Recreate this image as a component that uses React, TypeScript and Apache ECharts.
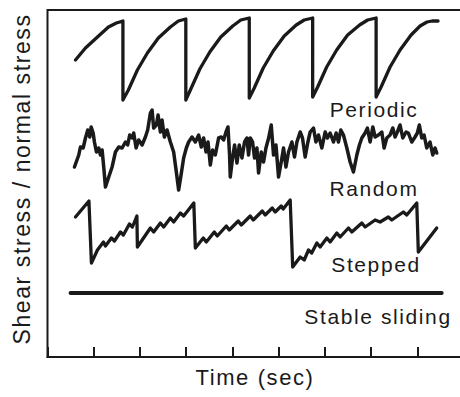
import React, { useEffect, useRef } from "react";
import * as echarts from "echarts";

// Time (sec) vs shear stress / normal stress (arbitrary units)
const periodic: [number, number][] = [
  [0.605, 297], [0.821, 309], [1.08, 320], [1.318, 330], [1.49, 334], [1.631, 336],
  [1.631, 257], [1.749, 267], [1.944, 287], [2.16, 304], [2.397, 319], [2.657, 330], [2.829, 336], [2.991, 338],
  [2.991, 257], [3.099, 268], [3.294, 288], [3.51, 305], [3.747, 320], [4.006, 331], [4.179, 337], [4.363, 339],
  [4.363, 259], [4.471, 269], [4.665, 289], [4.881, 306], [5.119, 321], [5.378, 332], [5.551, 337], [5.734, 339],
  [5.734, 260], [5.842, 270], [6.037, 290], [6.253, 307], [6.49, 322], [6.749, 332], [6.922, 337], [7.106, 339],
  [7.106, 260], [7.214, 270], [7.408, 290], [7.624, 307], [7.862, 322], [8.056, 331], [8.207, 335], [8.315, 336], [8.445, 336],
];

const random: [number, number][] = [
  [0.583, 190], [0.676, 202], [0.713, 210], [0.771, 209], [0.821, 219], [0.87, 227], [0.914, 220], [0.944, 230],
  [0.987, 224], [1.015, 215], [1.058, 205], [1.108, 209], [1.145, 202], [1.181, 207], [1.216, 190], [1.253, 170],
  [1.324, 180], [1.397, 190], [1.469, 205], [1.54, 210], [1.613, 209], [1.685, 215], [1.734, 212], [1.778, 222],
  [1.829, 219], [1.864, 224], [1.916, 209], [1.972, 217], [2.045, 212], [2.117, 220], [2.166, 227], [2.225, 244],
  [2.261, 247], [2.296, 229], [2.354, 232], [2.391, 242], [2.441, 225], [2.477, 237], [2.527, 220], [2.585, 227],
  [2.657, 215], [2.728, 205], [2.786, 185], [2.836, 167], [2.888, 182], [2.944, 199], [3.002, 209], [3.052, 215],
  [3.125, 220], [3.197, 215], [3.268, 222], [3.326, 210], [3.376, 219], [3.428, 205], [3.471, 215], [3.521, 192],
  [3.57, 207], [3.629, 202], [3.7, 219], [3.758, 220], [3.808, 217], [3.86, 225], [3.903, 230], [3.937, 202],
  [3.952, 180], [4.002, 199], [4.045, 212], [4.097, 194], [4.147, 212], [4.205, 199], [4.261, 215], [4.313, 219],
  [4.348, 202], [4.384, 219], [4.434, 215], [4.477, 199], [4.529, 209], [4.564, 184], [4.622, 205], [4.672, 195],
  [4.724, 209], [4.782, 219], [4.838, 232], [4.888, 202], [4.94, 212], [4.996, 180], [5.054, 195], [5.104, 209],
  [5.156, 190], [5.212, 205], [5.285, 215], [5.341, 200], [5.393, 215], [5.464, 225], [5.514, 219], [5.572, 200],
  [5.631, 215], [5.68, 225], [5.752, 229], [5.804, 215], [5.86, 222], [5.933, 209], [6.004, 225], [6.054, 219],
  [6.112, 224], [6.184, 215], [6.242, 224], [6.292, 215], [6.343, 227], [6.4, 222], [6.473, 209], [6.544, 195],
  [6.616, 185], [6.689, 202], [6.745, 212], [6.797, 219], [6.868, 224], [6.918, 229], [6.976, 215], [7.035, 230],
  [7.084, 220], [7.156, 222], [7.229, 225], [7.279, 209], [7.337, 219], [7.408, 222], [7.467, 229], [7.516, 220],
  [7.566, 225], [7.624, 232], [7.683, 219], [7.754, 225], [7.803, 224], [7.877, 215], [7.948, 220], [7.998, 224],
  [8.041, 232], [8.093, 219], [8.143, 222], [8.201, 209], [8.272, 215], [8.331, 202], [8.38, 209], [8.417, 204],
];

const stepped: [number, number][] = [
  [0.605, 140], [0.896, 156], [0.95, 94],
  [1.08, 107], [1.21, 115], [1.253, 111], [1.382, 119], [1.447, 116], [1.577, 125], [1.641, 122], [1.771, 133],
  [1.836, 130], [1.933, 141], [1.944, 110],
  [2.225, 129], [2.296, 125], [2.441, 134], [2.512, 130], [2.657, 139], [2.728, 135], [2.873, 144], [2.944, 141],
  [3.164, 154], [3.197, 109],
  [3.369, 119], [3.434, 115], [3.607, 125], [3.672, 121], [3.866, 131], [3.931, 127], [4.125, 136], [4.19, 132],
  [4.384, 141], [4.449, 137], [4.644, 146], [4.708, 142], [4.86, 149], [4.924, 145], [5.054, 151], [5.097, 148],
  [5.248, 157], [5.302, 90],
  [5.464, 100], [5.551, 97], [5.644, 107], [5.713, 104], [5.825, 114], [5.896, 110], [6.041, 119], [6.112, 115],
  [6.257, 124], [6.328, 120], [6.508, 129], [6.581, 125], [6.797, 134], [6.868, 130], [7.084, 137], [7.192, 135],
  [7.371, 140], [7.445, 137], [7.695, 145], [7.769, 142], [7.985, 154], [8.019, 105], [8.417, 129],
];

const stable: [number, number][] = [
  [0.497, 64], [8.525, 64],
];

const curveLabels = ["Periodic", "Random", "Stepped", "Stable sliding"];
const xAxisTitle = "Time (sec)";
const yAxisTitle = "Shear stress / normal stress";

const FONT = '"Liberation Sans", Arial, Helvetica, sans-serif';
const INK = "#1a1a1a";

export default function App() {
  const ref = useRef<HTMLDivElement>(null);

  useEffect(() => {
    if (!ref.current) return;
    const chart = echarts.init(ref.current, undefined, { renderer: "svg" });
    const lineSeries = (name: string, data: [number, number][], width: number) => ({
      name,
      type: "line",
      data,
      showSymbol: false,
      symbol: "none",
      lineStyle: { color: INK, width, join: "round", cap: "round" },
      z: 3,
    });
    const labelPos = [
      [374, 109],
      [374, 188],
      [376, 264],
      [378, 316],
    ];
    chart.setOption({
      animation: false,
      backgroundColor: "#ffffff",
      grid: {
        left: 47.5,
        top: 10,
        width: 416.2,
        height: 347,
        show: true,
        borderColor: INK,
        borderWidth: 2,
        backgroundColor: "transparent",
      },
      xAxis: {
        type: "value",
        min: 0,
        max: 9,
        interval: 1,
        axisLine: { show: true, onZero: false, lineStyle: { color: INK, width: 2 } },
        axisTick: { show: true, inside: true, length: 10, lineStyle: { color: INK, width: 2 } },
        axisLabel: { show: false },
        splitLine: { show: false },
      },
      yAxis: {
        type: "value",
        min: 0,
        max: 347,
        axisLine: { show: false },
        axisTick: { show: false },
        axisLabel: { show: false },
        splitLine: { show: false },
      },
      series: [
        lineSeries("Periodic", periodic, 3.3),
        lineSeries("Random", random, 3.5),
        lineSeries("Stepped", stepped, 3.3),
        lineSeries("Stable sliding", stable, 3.8),
      ],
      graphic: [
        ...curveLabels.map((t, i) => ({
          type: "text",
          x: labelPos[i][0],
          y: labelPos[i][1],
          style: {
            text: t,
            font: `21px ${FONT}`,
            fill: INK,
            textAlign: "center",
            textVerticalAlign: "middle",
          },
        })),
        {
          type: "text",
          x: 255,
          y: 377,
          style: {
            text: xAxisTitle,
            font: `22px ${FONT}`,
            fill: INK,
            textAlign: "center",
            textVerticalAlign: "middle",
          },
        },
        {
          type: "text",
          x: 22,
          y: 179,
          rotation: Math.PI / 2,
          style: {
            text: yAxisTitle,
            font: `23px ${FONT}`,
            fill: INK,
            textAlign: "center",
            textVerticalAlign: "middle",
          },
        },
      ],
    });
    return () => chart.dispose();
  }, []);

  return (
    <div
      style={{
        position: "absolute",
        left: 0,
        top: 0,
        width: 460,
        height: 397,
        overflow: "hidden",
        background: "#fff",
        letterSpacing: "1.6px",
      }}
    >
      <div ref={ref} style={{ width: 480, height: 397 }} />
    </div>
  );
}
